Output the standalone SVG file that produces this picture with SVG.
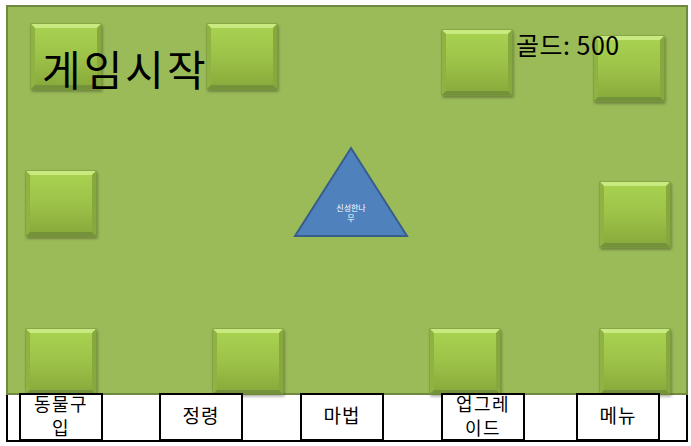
<svg xmlns="http://www.w3.org/2000/svg" xmlns:xlink="http://www.w3.org/1999/xlink" width="691" height="446" viewBox="0 0 691 446">
<style>
.lbl{font-family:"Noto Sans CJK KR","Noto Sans",sans-serif;fill:#000;text-anchor:middle}
.btn{fill:#fff;stroke:#000;stroke-width:2}
</style>
<defs>
<linearGradient id="g" x1="0" y1="0" x2="0" y2="1">
<stop offset="0" stop-color="#a9d352"/>
<stop offset="0.5" stop-color="#9dc248"/>
<stop offset="1" stop-color="#86a83a"/>
</linearGradient>
<filter id="sh" x="-20%" y="-20%" width="140%" height="140%">
<feDropShadow dx="1" dy="2" stdDeviation="1.5" flood-color="#000" flood-opacity="0.35"/>
</filter>
<g id="sq">
<rect x="0" y="0" width="70" height="65" fill="url(#g)" stroke="#76933a" stroke-width="1" filter="url(#sh)"/>
<polygon points="0,0 70,0 66,4 4,4" fill="#c8ea80"/>
<polygon points="0,0 4,4 4,61 0,65" fill="#8fb243"/>
<polygon points="70,0 66,4 66,61 70,65" fill="#87a83c"/>
<polygon points="0,65 4,61 66,61 70,65" fill="#74923a"/>
</g>
</defs>
<rect x="0" y="0" width="691" height="446" fill="#fff"/>
<g id="bottom-bar">
<polyline points="7,394 7,441 687,441 687,394" fill="none" stroke="#000" stroke-width="2"/>
</g>
<g id="board">
<rect x="7" y="6" width="680" height="388" fill="#9bbb59" stroke="#71893f" stroke-width="2"/>
</g>
<g id="squares">
<use id="sq1" xlink:href="#sq" x="31" y="24"/>
<use id="sq2" xlink:href="#sq" x="207" y="24"/>
<use id="sq3" xlink:href="#sq" x="442" y="30"/>
<use id="sq4" xlink:href="#sq" x="594" y="36"/>
<use id="sq5" xlink:href="#sq" x="26" y="171"/>
<use id="sq6" xlink:href="#sq" x="600" y="182"/>
<use id="sq7" xlink:href="#sq" x="26" y="329"/>
<use id="sq8" xlink:href="#sq" x="213" y="329"/>
<use id="sq9" xlink:href="#sq" x="430" y="329"/>
<use id="sq10" xlink:href="#sq" x="600" y="329"/>
</g>
<g id="tree">
<polygon points="351,148 407,236 295,236" fill="#4f81bd" stroke="#385d8a" stroke-width="2"/>
<text class="lbl" font-size="8" style="fill:#fff"><tspan x="351" y="211">신성한나</tspan><tspan x="351" y="221">무</tspan></text>
</g>
<g id="title">
<text x="42" y="86" font-size="42" letter-spacing="3" style="font-family:'Noto Sans CJK KR','Noto Sans',sans-serif">게임시작</text>
</g>
<g id="gold">
<text x="516" y="55" font-size="25" letter-spacing="0.5" style="font-family:'Noto Sans CJK KR','Noto Sans',sans-serif">골드: 500</text>
</g>
<g id="btn-animal">
<rect class="btn" x="20" y="394" width="82" height="46"/>
<text class="lbl" font-size="18" letter-spacing="1.5"><tspan x="61" y="411">동물구</tspan><tspan x="61" y="435">입</tspan></text>
</g>
<g id="btn-spirit">
<rect class="btn" x="160" y="394" width="82" height="46"/>
<text class="lbl" x="201" y="423" font-size="19" letter-spacing="1">정령</text>
</g>
<g id="btn-magic">
<rect class="btn" x="301" y="394" width="82" height="46"/>
<text class="lbl" x="342" y="423" font-size="19" letter-spacing="1">마법</text>
</g>
<g id="btn-upgrade">
<rect class="btn" x="442" y="394" width="82" height="46"/>
<text class="lbl" font-size="18" letter-spacing="1.5"><tspan x="483" y="411">업그레</tspan><tspan x="483" y="435">이드</tspan></text>
</g>
<g id="btn-menu">
<rect class="btn" x="577" y="394" width="82" height="46"/>
<text class="lbl" x="618" y="423" font-size="19" letter-spacing="1">메뉴</text>
</g>
</svg>
